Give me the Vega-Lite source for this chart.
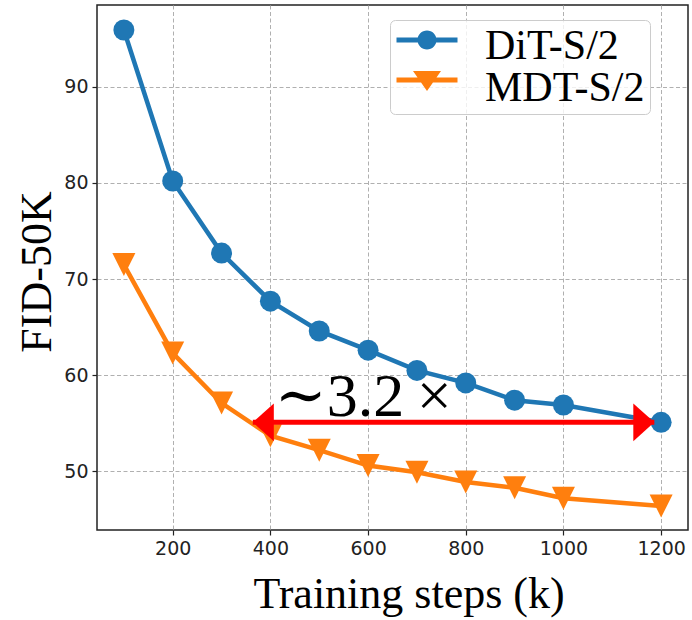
{
  "$schema": "https://vega.github.io/schema/vega-lite/v6.json",
  "width": 591,
  "height": 525,
  "autosize": "none",
  "padding": {"left": 97, "top": 5, "right": 4, "bottom": 90},
  "background": "white",
  "config": {
    "view": {"stroke": "#222222", "strokeWidth": 1.5},
    "axis": {
      "grid": true,
      "gridColor": "#b0b0b0",
      "gridDash": [4, 2.5],
      "gridWidth": 1,
      "domain": false,
      "tickSize": 5,
      "tickColor": "#222222",
      "tickWidth": 1.2,
      "labelFont": "DejaVu Sans",
      "labelFontSize": 19,
      "labelColor": "#222222",
      "labelPadding": 4,
      "format": "d",
      "titleFont": "Liberation Serif",
      "titleFontSize": 44,
      "titleFontWeight": "normal",
      "titleColor": "#000000"
    }
  },
  "datasets": {
    "main": [
      {"series": "DiT-S/2", "step": 100, "fid": 95.9},
      {"series": "DiT-S/2", "step": 200, "fid": 80.2},
      {"series": "DiT-S/2", "step": 300, "fid": 72.7},
      {"series": "DiT-S/2", "step": 400, "fid": 67.7},
      {"series": "DiT-S/2", "step": 500, "fid": 64.6},
      {"series": "DiT-S/2", "step": 600, "fid": 62.6},
      {"series": "DiT-S/2", "step": 700, "fid": 60.5},
      {"series": "DiT-S/2", "step": 800, "fid": 59.2},
      {"series": "DiT-S/2", "step": 900, "fid": 57.4},
      {"series": "DiT-S/2", "step": 1000, "fid": 56.9},
      {"series": "DiT-S/2", "step": 1200, "fid": 55.1},
      {"series": "MDT-S/2", "step": 100, "fid": 71.5},
      {"series": "MDT-S/2", "step": 200, "fid": 62.3},
      {"series": "MDT-S/2", "step": 300, "fid": 57.1},
      {"series": "MDT-S/2", "step": 400, "fid": 53.7},
      {"series": "MDT-S/2", "step": 500, "fid": 52.2},
      {"series": "MDT-S/2", "step": 600, "fid": 50.6},
      {"series": "MDT-S/2", "step": 700, "fid": 49.9},
      {"series": "MDT-S/2", "step": 800, "fid": 48.9},
      {"series": "MDT-S/2", "step": 900, "fid": 48.3},
      {"series": "MDT-S/2", "step": 1000, "fid": 47.2},
      {"series": "MDT-S/2", "step": 1200, "fid": 46.4}
    ],
    "arrow": [{"step": 364, "step2": 1186, "fid": 55.1}],
    "heads": [
      {"side": "left", "step": 364, "fid": 55.1},
      {"side": "right", "step": 1186, "fid": 55.1}
    ],
    "label": [{"text": "∼3.2\u2009×", "step": 409, "fid": 55.8}]
  },
  "encoding": {
    "x": {
      "field": "step",
      "type": "quantitative",
      "scale": {"domain": [45, 1255], "nice": false, "zero": false},
      "axis": {
        "values": [200, 400, 600, 800, 1000, 1200],
        "title": "Training steps (k)",
        "titleX": 311.5,
        "titleY": 77,
        "titleAlign": "center",
        "titleBaseline": "alphabetic"
      }
    },
    "y": {
      "field": "fid",
      "type": "quantitative",
      "scale": {"domain": [43.9, 98.5], "nice": false, "zero": false},
      "axis": {
        "values": [50, 60, 70, 80, 90],
        "title": "FID-50K",
        "titleX": -47,
        "titleY": 266.5,
        "titleAlign": "center",
        "titleBaseline": "alphabetic",
        "titleAngle": -90
      }
    }
  },
  "layer": [
    {
      "data": {"name": "main"},
      "transform": [{"filter": "datum.series === 'DiT-S/2'"}],
      "mark": {"type": "line", "strokeWidth": 4.5, "color": "#1f77b4"},
      "encoding": {}
    },
    {
      "data": {"name": "main"},
      "transform": [{"filter": "datum.series === 'MDT-S/2'"}],
      "mark": {"type": "line", "strokeWidth": 4.5, "color": "#ff7f0e"},
      "encoding": {}
    },
    {
      "data": {"name": "main"},
      "transform": [{"filter": "datum.series === 'DiT-S/2'"}],
      "mark": {"type": "point", "shape": "circle", "filled": true, "size": 441, "opacity": 1, "color": "#1f77b4"},
      "encoding": {}
    },
    {
      "data": {"name": "main"},
      "transform": [{"filter": "datum.series === 'MDT-S/2'"}],
      "mark": {"type": "point", "shape": "M-1,-1L1,-1L0,1Z", "filled": true, "size": 529, "opacity": 1, "color": "#ff7f0e"},
      "encoding": {}
    },
    {
      "data": {"name": "arrow"},
      "mark": {"type": "rule", "color": "#ff0000", "strokeWidth": 5},
      "encoding": {
        "x2": {"field": "step2"}
      }
    },
    {
      "data": {"name": "heads"},
      "transform": [{"filter": "datum.side === 'left'"}],
      "mark": {"type": "point", "shape": "M0,0L2,-1.8L2,1.8Z", "filled": true, "size": 441, "opacity": 1, "color": "#ff0000"},
      "encoding": {}
    },
    {
      "data": {"name": "heads"},
      "transform": [{"filter": "datum.side === 'right'"}],
      "mark": {"type": "point", "shape": "M0,0L-2,-1.8L-2,1.8Z", "filled": true, "size": 441, "opacity": 1, "color": "#ff0000"},
      "encoding": {}
    },
    {
      "data": {"name": "label"},
      "mark": {"type": "text", "font": "Liberation Serif, DejaVu Serif", "fontSize": 62, "align": "left", "baseline": "alphabetic", "color": "#000000"},
      "encoding": {
        "text": {"field": "text"}
      }
    },
    {
      "data": {"name": "main"},
      "mark": {"type": "point", "filled": true, "opacity": 0, "size": 400},
      "encoding": {
        "color": {
          "field": "series",
          "type": "nominal",
          "scale": {"domain": ["DiT-S/2", "MDT-S/2"], "range": ["#1f77b4", "#ff7f0e"]},
          "legend": {"title": null}
        },
        "shape": {
          "field": "series",
          "type": "nominal",
          "scale": {
            "domain": ["DiT-S/2", "MDT-S/2"],
            "range": [
              "M-3.05,-0.85H3.05V-0.35H-3.05Z M-0.95,-0.6A0.95,0.95 0 1,1 0.95,-0.6A0.95,0.95 0 1,1 -0.95,-0.6Z",
              "M-3.05,-1.05H3.05V-0.55H-3.05Z M-1.4,-1.7L1.4,-1.7L0,0.3Z"
            ]
          },
          "legend": {
            "title": null,
            "orient": "none",
            "legendX": 293,
            "legendY": 15,
            "padding": 5,
            "rowPadding": -1,
            "symbolSize": 400,
            "symbolStrokeWidth": 0,
            "symbolOffset": 11,
            "labelOffset": 37,
            "labelFont": "Liberation Serif",
            "labelFontSize": 42,
            "labelColor": "#000000",
            "labelLimit": 600,
            "labelExpr": "datum.label + '\u2003'",
            "strokeColor": "#cccccc",
            "fillColor": "rgba(255,255,255,0.8)",
            "cornerRadius": 5,
            "symbolOpacity": 1
          }
        }
      }
    }
  ]
}
